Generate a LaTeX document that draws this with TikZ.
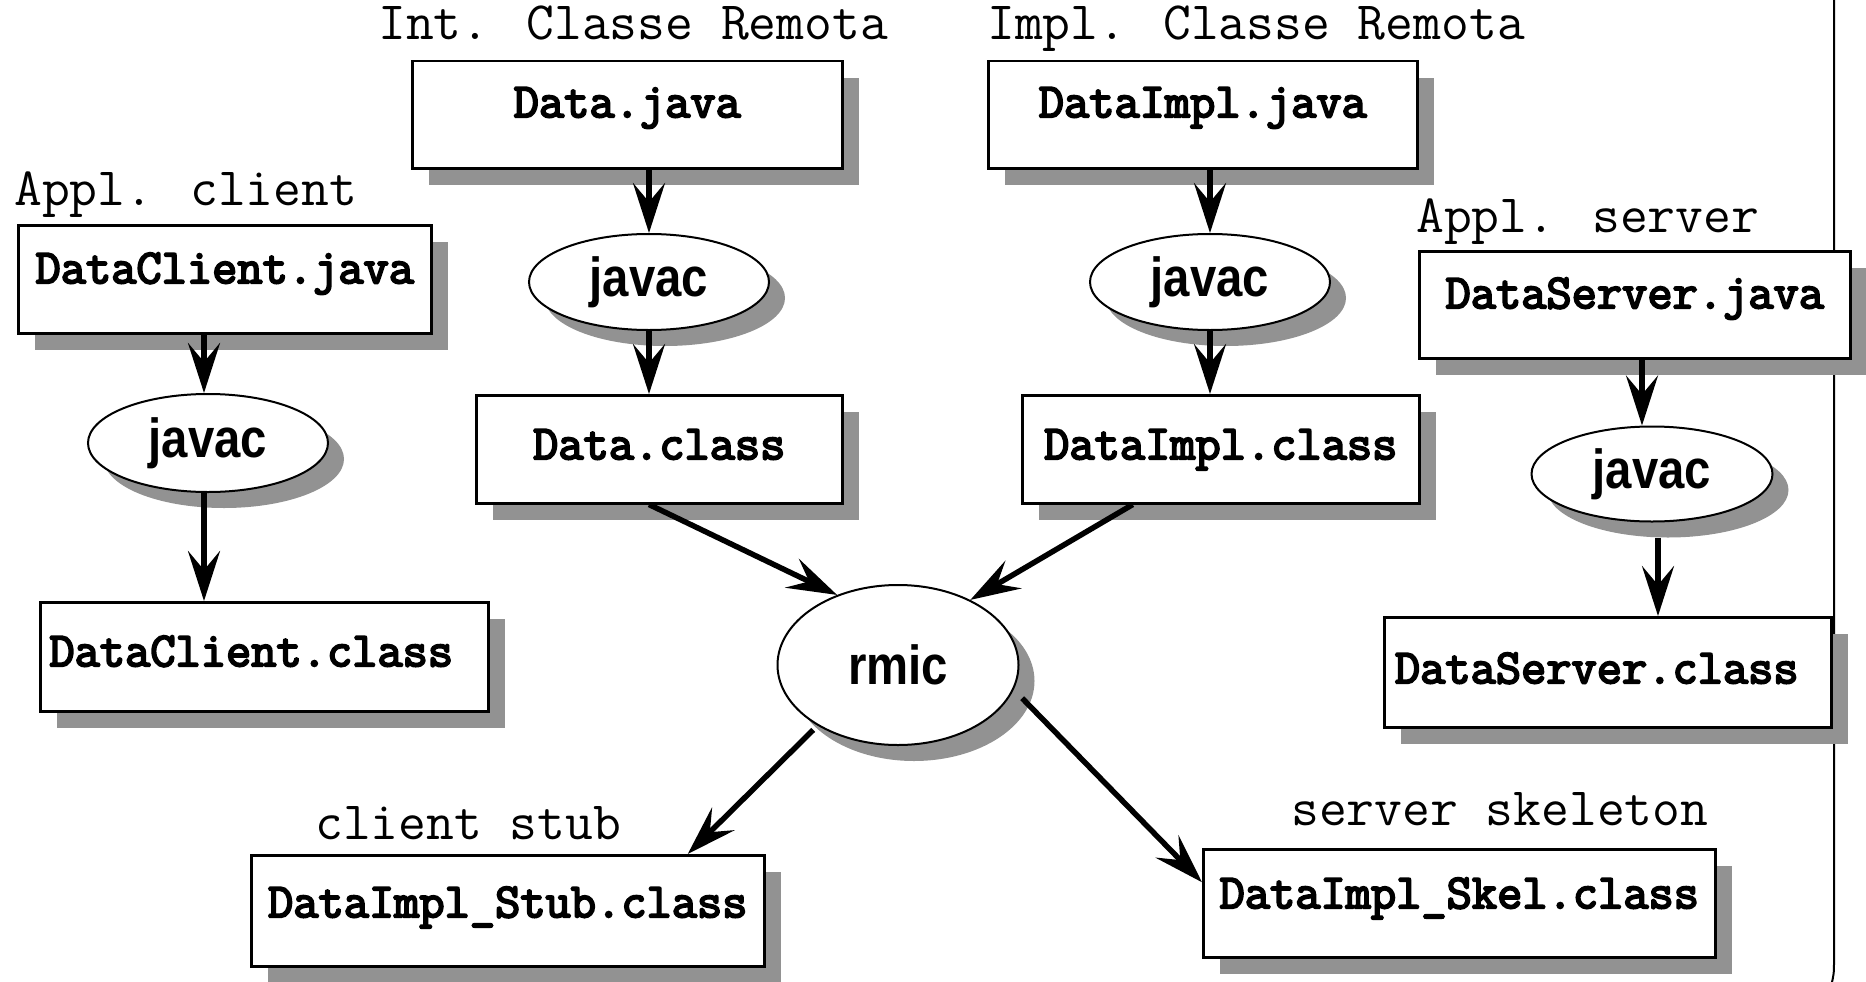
\documentclass[tikz,border=0pt]{standalone}
\usepackage{fontspec}
\usetikzlibrary{arrows.meta,shapes.geometric,shadows}
\newfontfamily\toolfont[FakeStretch=0.86]{Liberation Sans}
\newfontfamily\filefont[FakeBold=4]{Latin Modern Mono}
\definecolor{shadowgray}{RGB}{146,146,146}
\tikzset{
  filebox/.style={draw, line width=2.5pt, fill=white, inner sep=0pt, anchor=north west,
    font=\filefont\fontsize{49}{49}\selectfont,
    drop shadow={shadow xshift=17pt, shadow yshift=-17pt, fill=shadowgray, opacity=1}},
  tool/.style={ellipse, draw, line width=2pt, fill=white, inner sep=0pt,
    font=\toolfont\bfseries\fontsize{55}{55}\selectfont,
    drop shadow={shadow xshift=16pt, shadow yshift=-16pt, fill=shadowgray, opacity=1}},
  lab/.style={font=\ttfamily\fontsize{54}{54}\selectfont, anchor=base west, inner sep=0pt},
  arr/.style={line width=5.5pt, -{Stealth[length=50pt,width=32pt,inset=19pt]}},
  border/.style={line width=2pt}
}
\begin{document}
\begin{tikzpicture}[x=1pt,y=-1pt]
\useasboundingbox (0,0) rectangle (1866,982);
% right border line
\draw[border] (1834,-5) -- (1834,958) .. controls (1834,974) .. (1831,986);

% labels
\node[lab] (lInt) at (378,40) {Int. Classe Remota};
\node[lab] (lImpl) at (987,40) {Impl. Classe Remota};
\node[lab] (lCli) at (14,205) {Appl. client};
\node[lab] (lSrv) at (1416,232) {Appl. server};
\node[lab] (lStub) at (315,839) {client stub};
\node[lab] (lSkel) at (1291,825) {server skeleton};

% file boxes
\node[filebox, minimum width=430pt, text height=56pt, text depth=51pt] (DJ) at (411,60) {Data.java};
\node[filebox, minimum width=429pt, text height=56pt, text depth=51pt] (DIJ) at (987,60) {DataImpl.java};
\node[filebox, minimum width=413pt, text height=58pt, text depth=50pt] (DCJ) at (17,224) {DataClient.java};
\node[filebox, minimum width=366pt, text height=64pt, text depth=44pt] (DC) at (475,394) {Data.class};
\node[filebox, minimum width=397pt, text height=64pt, text depth=44pt] (DIC) at (1021,394) {DataImpl.class};
\node[filebox, minimum width=431pt, text height=57pt, text depth=50pt] (DSJ) at (1418,250) {DataServer.java};
\node[filebox, minimum width=448pt, text height=64pt, text depth=45pt] (DCC) at (39,601) {DataClient.class\hspace*{26pt}};
\node[filebox, minimum width=447pt, text height=66pt, text depth=44pt] (DSC) at (1383,616) {DataServer.class\hspace*{22pt}};
\node[filebox, minimum width=513pt, text height=62pt, text depth=49pt] (Stub) at (250,854) {DataImpl\_Stub.class};
\node[filebox, minimum width=512pt, text height=59pt, text depth=49pt] (Skel) at (1202,848) {DataImpl\_Skel.class};

% tools
\node[tool, minimum width=240pt, minimum height=96pt] (javacA) at (649,282) {javac};
\node[tool, minimum width=240pt, minimum height=96pt] (javacB) at (1210,282) {javac};
\node[tool, minimum width=240pt, minimum height=98pt] (javacC) at (208,443) {javac};
\node[tool, minimum width=241pt, minimum height=95pt] (javacD) at (1652,474) {javac};
\node[tool, minimum width=241pt, minimum height=160pt] (rmic) at (898,665) {rmic};

% connectors
\draw[arr] (javacA |- DJ.south) -- (javacA.north);
\draw[arr] (javacA.south) -- (javacA |- DC.north);
\draw[arr] (javacB |- DIJ.south) -- (javacB.north);
\draw[arr] (javacB.south) -- (javacB |- DIC.north);
\draw[arr] ([xshift=-4pt]javacC |- DCJ.south) -- ([xshift=-4pt]javacC.north);
\draw[arr] ([xshift=-4pt]javacC.south) -- ([xshift=-4pt]javacC |- DCC.north);
\draw[arr] ([xshift=-10pt]javacD |- DSJ.south) -- ([xshift=-10pt]javacD.north);
\draw[arr, shorten <=15pt] ([xshift=6pt]javacD.south) -- ([xshift=6pt]javacD |- DSC.north);
\draw[arr] (javacA |- DC.south) -- (rmic.131);
\draw[arr] ([xshift=-88pt]DIC.south) -- (rmic.42);
\draw[arr, shorten <=6pt] (rmic.217) -- ([xshift=180pt]Stub.north);
\draw[arr, shorten <=12pt] (rmic.-12) -- ([yshift=21pt]Skel.west);
\end{tikzpicture}
\end{document}
